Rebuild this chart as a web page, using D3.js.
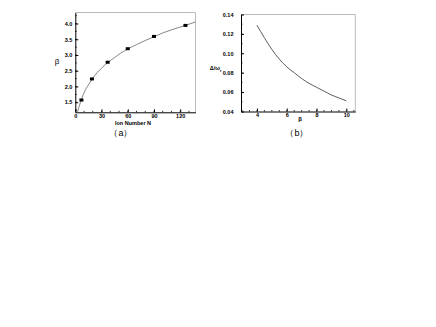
<!DOCTYPE html>
<html><head><meta charset="utf-8">
<script src="https://cdn.jsdelivr.net/npm/d3@7"></script>
<style>body{margin:0;background:#fff}svg{display:block}text{font-family:"Liberation Sans",Arial,sans-serif;fill:#000}</style>
</head><body>
<script>
// Panel (a): measured points
const ionN = [7, 19, 37, 60, 90, 126];
const betaPts = [1.57, 2.24, 2.77, 3.20, 3.59, 3.94];
// Panel (a): fitted curve
const fitN = [2.6, 4, 5, 7, 10, 15, 19, 25, 30, 37, 45, 52, 60, 70, 80, 90, 100, 110, 126, 137.5];
const fitBeta = [1.18, 1.33, 1.42, 1.58, 1.80, 2.05, 2.22, 2.44, 2.58, 2.76, 2.92, 3.06, 3.19, 3.33, 3.46, 3.58, 3.70, 3.80, 3.94, 4.05];
const xTicksA = [0, 30, 60, 90, 120];
const yTicksA = [1.5, 2.0, 2.5, 3.0, 3.5, 4.0];
// Panel (b)
const betaB = [4, 4.5, 5, 5.5, 6, 6.5, 7, 7.5, 8, 8.5, 9, 9.5, 10];
const deltaB = [0.129, 0.116, 0.104, 0.094, 0.086, 0.080, 0.074, 0.069, 0.065, 0.061, 0.057, 0.054, 0.051];
const xTicksB = [4, 6, 8, 10];
const yTicksB = [0.04, 0.06, 0.08, 0.10, 0.12, 0.14];

const svg = d3.select("body").append("svg").attr("width", 436).attr("height", 327);

function panel(o) {
  const g = svg.append("g");
  const x = d3.scaleLinear().domain(o.xd).range([o.l, o.r]);
  const y = d3.scaleLinear().domain(o.yd).range([o.b, o.t]);
  g.append("path").attr("d", `M${o.l},${o.t}H${o.r}V${o.b}`).attr("fill","none").attr("stroke","#bbb").attr("stroke-width",1);
  g.selectAll(".mx").data(o.xMinor).join("line").attr("x1",d=>x(d)).attr("x2",d=>x(d)).attr("y1",o.b).attr("y2",o.b-1.5).attr("stroke","#000").attr("stroke-width",0.8);
  g.selectAll(".my").data(o.yMinor).join("line").attr("y1",d=>y(d)).attr("y2",d=>y(d)).attr("x1",o.l).attr("x2",o.l+1.5).attr("stroke","#000").attr("stroke-width",0.8);
  const xa = d3.axisBottom(x).tickValues(o.xt).tickSizeInner(-3).tickSizeOuter(0).tickPadding(o.xp).tickFormat(o.xf);
  const ya = d3.axisLeft(y).tickValues(o.yt).tickSizeInner(-3).tickSizeOuter(0).tickPadding(o.yp).tickFormat(o.yf);
  const gx = g.append("g").attr("transform",`translate(0,${o.b})`).call(xa);
  const gy = g.append("g").attr("transform",`translate(${o.l},0)`).call(ya);
  [gx, gy].forEach(a => {
    a.selectAll("text").attr("font-size", 5.5).attr("font-weight","bold").attr("font-family","Liberation Sans, Arial, sans-serif");
    a.select(".domain").attr("stroke","#000").attr("stroke-width",1);
    a.selectAll(".tick line").attr("stroke","#000");
  });
  return {g, x, y};
}

// Panel (a)
const A = panel({l:75.3, r:195.5, t:12.5, b:112.3, xd:[0,137.5], yd:[1.18,4.35],
  xt:xTicksA, yt:yTicksA, xMinor:d3.range(10,137,10), yMinor:d3.range(1.25,4.3,0.25),
  xf:d3.format("d"), yf:d3.format(".1f"), xp:1.5, yp:3});
A.g.append("path").datum(fitN.map((n,i)=>[n,fitBeta[i]]))
  .attr("d", d3.line().x(d=>A.x(d[0])).y(d=>A.y(d[1])).curve(d3.curveMonotoneX))
  .attr("fill","none").attr("stroke","#666").attr("stroke-width",0.8);
A.g.selectAll(".pt").data(ionN.map((n,i)=>[n,betaPts[i]])).join("rect")
  .attr("x",d=>A.x(d[0])-2).attr("y",d=>A.y(d[1])-1.5).attr("width",4).attr("height",3).attr("fill","#000");
svg.append("text").attr("x",57).attr("y",64).attr("font-size",8).attr("text-anchor","middle").text("β");
svg.append("text").attr("x",133).attr("y",124.5).attr("font-size",5.5).attr("font-weight","bold").attr("text-anchor","middle").text("Ion Number N");
svg.append("text").attr("x",121).attr("y",136).attr("font-size",9).attr("text-anchor","middle").text("（a）");

// Panel (b)
const B = panel({l:241, r:355.3, t:14.5, b:111.5, xd:[2.93,10.6], yd:[0.04,0.14],
  xt:xTicksB, yt:yTicksB, xMinor:d3.range(3,10.6,0.5), yMinor:d3.range(0.05,0.14,0.01),
  xf:d3.format("d"), yf:d3.format(".2f"), xp:2, yp:7.5});
B.g.append("path").datum(betaB.map((b,i)=>[b,deltaB[i]]))
  .attr("d", d3.line().x(d=>B.x(d[0])).y(d=>B.y(d[1])).curve(d3.curveMonotoneX))
  .attr("fill","none").attr("stroke","#333").attr("stroke-width",0.8);
const yl = svg.append("text").attr("x",221.5).attr("y",70).attr("font-size",5.5).attr("font-weight","bold").attr("text-anchor","end");
yl.append("tspan").text("Δ/ω");
yl.append("tspan").attr("dy",2).attr("font-size",4).text("r");
svg.append("text").attr("x",300).attr("y",121).attr("font-size",6).attr("font-weight","bold").attr("text-anchor","middle").text("β");
svg.append("text").attr("x",297).attr("y",136).attr("font-size",9).attr("text-anchor","middle").text("（b）");
</script>
</body></html>
